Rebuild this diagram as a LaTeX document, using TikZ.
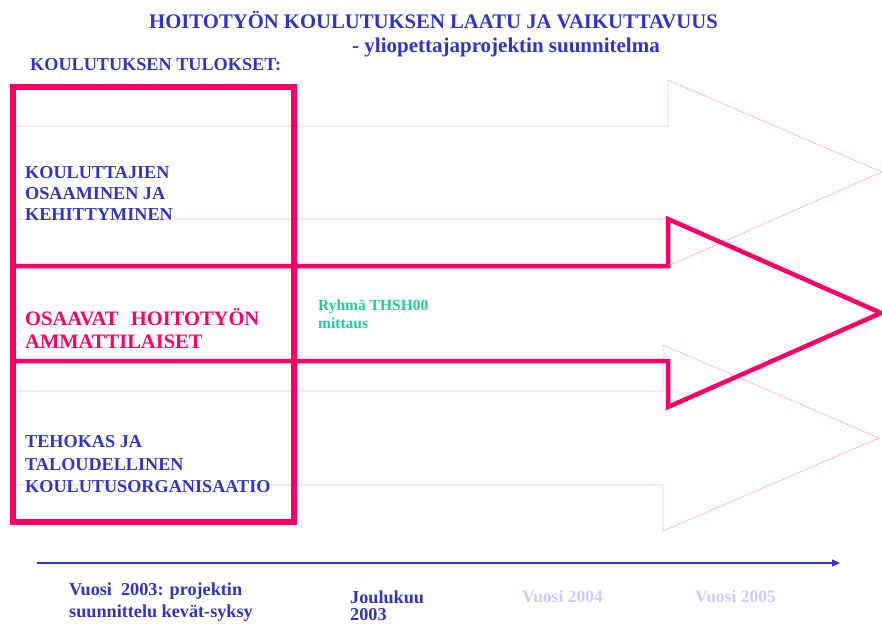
\documentclass[tikz,border=0pt]{standalone}
\usepackage{fontspec}
\setmainfont{Liberation Serif}
\usetikzlibrary{arrows.meta}
\definecolor{tblue}{HTML}{3333CC}
\definecolor{tpink}{HTML}{FF0066}
\definecolor{tlpink}{HTML}{FF88B0}
\definecolor{tgreen}{HTML}{22CC99}
\definecolor{tlblue}{HTML}{CCCCFF}
\tikzset{
  txt/.style={anchor=base west, inner sep=0pt, font=\bfseries\fontsize{18.2}{21}\selectfont, text=tblue},
  ttl/.style={anchor=base, inner sep=0pt, font=\bfseries\fontsize{20.7}{24}\selectfont, text=tblue},
  pinktxt/.style={txt, font=\bfseries\fontsize{20.5}{23}\selectfont, text=tpink},
  greentxt/.style={txt, font=\bfseries\fontsize{15.5}{18}\selectfont, text=tgreen},
  lighttxt/.style={txt, font=\bfseries\fontsize{17.5}{20}\selectfont, text=tlblue},
  thick pink/.style={draw=tpink, line width=4.5pt, line join=miter},
  dotpink/.style={draw=tlpink, line width=0.8pt, dash pattern=on 0.8pt off 0.8pt},
}
\begin{document}
\begin{tikzpicture}[x=1pt,y=-1pt]
\useasboundingbox (0,0) rectangle (882,623);
% dotted arrows
\draw[dotpink] (12,126) -- (668,126) -- (668,80) -- (882,172) -- (668,266) -- (668,219) -- (12,219);
\draw[dotpink] (12,391) -- (663,391) -- (663,345) -- (879,438) -- (663,531) -- (663,485) -- (12,485);
% thick arrow
\draw[thick pink] (12,266) -- (668,266) -- (668,219) -- (881,313) -- (668,407) -- (668,361) -- (12,361);
% box
\draw[draw=tpink, line width=6pt] (12.5,87) rectangle (293.5,522);
% titles
\node[ttl] (title) at (433.5,29) {HOITOTYÖN KOULUTUKSEN LAATU JA VAIKUTTAVUUS};
\node[ttl, font=\bfseries\fontsize{21}{24}\selectfont] (subtitle) at (506,53) {- yliopettajaprojektin suunnitelma};
\node[txt] (tulokset) at (30,71) {KOULUTUKSEN TULOKSET:};
% blue labels
\node[txt] (k1) at (25,178) {KOULUTTAJIEN};
\node[txt] (k2) at (25,199) {OSAAMINEN JA};
\node[txt] (k3) at (25,220) {KEHITTYMINEN};
\node[pinktxt] (o1) at (25,325) {OSAAVAT\hspace{0.6em}HOITOTYÖN};
\node[pinktxt] (o2) at (25,348) {AMMATTILAISET};
\node[txt] (t1) at (25,447) {TEHOKAS JA};
\node[txt] (t2) at (25,470) {TALOUDELLINEN};
\node[txt] (t3) at (25,492) {KOULUTUSORGANISAATIO};
\node[greentxt] (r1) at (318,310) {Ryhmä THSH00};
\node[greentxt] (r2) at (318,328) {mittaus};
% time axis
\coordinate (axs) at (37,563);
\coordinate (axe) at (840,563);
\draw[tblue, line width=1.2pt, -{Triangle[length=8pt,width=7pt]}] (axs) -- (axe);
\node[txt] (v1) at (69,595) {Vuosi\hspace{0.5em}2003: projektin};
\node[txt] (v2) at (69,617) {suunnittelu kevät-syksy};
\node[txt] (j1) at (350,603) {Joulukuu};
\node[txt] (j2) at (350,620) {2003};
\node[lighttxt] (v4) at (522,602) {Vuosi 2004};
\node[lighttxt] (v5) at (695,602) {Vuosi 2005};
\end{tikzpicture}
\end{document}
